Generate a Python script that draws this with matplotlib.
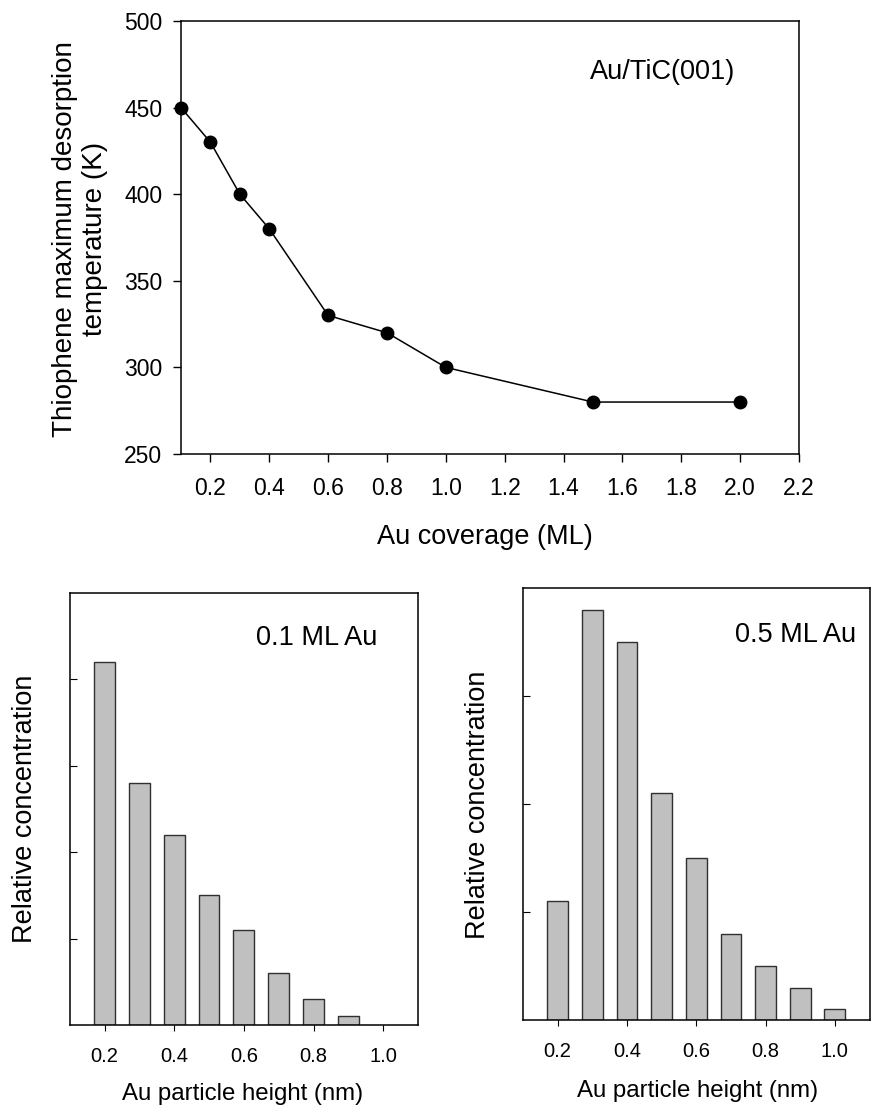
import matplotlib
matplotlib.use('Agg')
import matplotlib.pyplot as plt

plt.rcParams['font.family'] = ['Liberation Sans', 'DejaVu Sans']

# Datos del panel superior
cobertura = [0.1, 0.2, 0.3, 0.4, 0.6, 0.8, 1.0, 1.5, 2.0]
temperatura = [450, 430, 400, 380, 330, 320, 300, 280, 280]

# Histogramas de altura de particula
altura_01 = [0.2, 0.3, 0.4, 0.5, 0.6, 0.7, 0.8, 0.9]
conc_01 = [4.2, 2.8, 2.2, 1.5, 1.1, 0.6, 0.3, 0.1]
altura_05 = [0.2, 0.3, 0.4, 0.5, 0.6, 0.7, 0.8, 0.9, 1.0]
conc_05 = [1.1, 3.8, 3.5, 2.1, 1.5, 0.8, 0.5, 0.3, 0.1]

W, H = 871, 1105
fig = plt.figure(figsize=(W / 100, H / 100), dpi=100)


def caja(x0, y0, x1, y1):
    # pasa pixeles (arriba-izquierda) a fracciones de figura
    return [x0 / W, 1 - y1 / H, (x1 - x0) / W, (y1 - y0) / H]


def px(x, y):
    return x / W, 1 - y / H


# ---- Panel superior ----
ax = fig.add_axes(caja(181, 21, 799, 454))
ax.plot(cobertura, temperatura, color='black', lw=1.1, marker='o', ms=9, clip_on=False)
ax.set_xlim(0.1, 2.2)
ax.set_ylim(250, 500)
ax.set_xticks([0.2, 0.4, 0.6, 0.8, 1.0, 1.2, 1.4, 1.6, 1.8, 2.0, 2.2])
ax.set_xticklabels(['0.2', '0.4', '0.6', '0.8', '1.0', '1.2', '1.4', '1.6', '1.8', '2.0', '2.2'])
ax.set_yticks([250, 300, 350, 400, 450, 500])
ax.tick_params(direction='out', length=5.5, width=1, labelsize=16.5, pad=8)
ax.tick_params(axis='x', pad=11)
for s in ax.spines.values():
    s.set_linewidth(1.1)
ax.text(0.662, 0.882, 'Au/TiC(001)', transform=ax.transAxes, fontsize=19.5, va='center')
fig.text(*px(80, 239), 'Thiophene maximum desorption\ntemperature (K)', rotation=90,
         ha='center', va='center', fontsize=20, linespacing=1.2)
fig.text(*px(485, 537), 'Au coverage (ML)', ha='center', va='center', fontsize=19.5)


def histo(caja_px, alturas, conc, ymax, yticks, etiqueta, pos_etiqueta, ylab_pos, xlab_pos):
    a = fig.add_axes(caja(*caja_px))
    a.bar(alturas, conc, width=0.06, color='#c0c0c0', edgecolor='#303030', linewidth=1)
    a.set_xlim(0.1, 1.1)
    a.set_ylim(0, ymax)
    a.set_xticks([0.2, 0.4, 0.6, 0.8, 1.0])
    a.set_xticklabels(['0.2', '0.4', '0.6', '0.8', '1.0'])
    a.set_yticks(yticks)
    a.set_yticklabels([])
    a.tick_params(axis='y', direction='in', length=5)
    a.tick_params(axis='x', direction='out', length=4.5, labelsize=14.5, pad=11)
    for s in a.spines.values():
        s.set_linewidth(1.1)
    fig.text(*px(*pos_etiqueta), etiqueta, fontsize=19.5, va='center', ha='left')
    fig.text(*px(*ylab_pos), 'Relative concentration', rotation=90, ha='center',
             va='center', fontsize=19.5)
    fig.text(*px(*xlab_pos), 'Au particle height (nm)', ha='center', va='center', fontsize=17.3)
    return a


histo((69.7, 593, 418, 1025), altura_01, conc_01, 5, [1, 2, 3, 4], '0.1 ML Au',
      (256, 638), (25, 809), (243, 1094))
histo((523, 588, 869.5, 1020), altura_05, conc_05, 4, [1, 2, 3], '0.5 ML Au',
      (735, 635), (478, 805), (698, 1091))

plt.savefig('out.png', dpi=100)
